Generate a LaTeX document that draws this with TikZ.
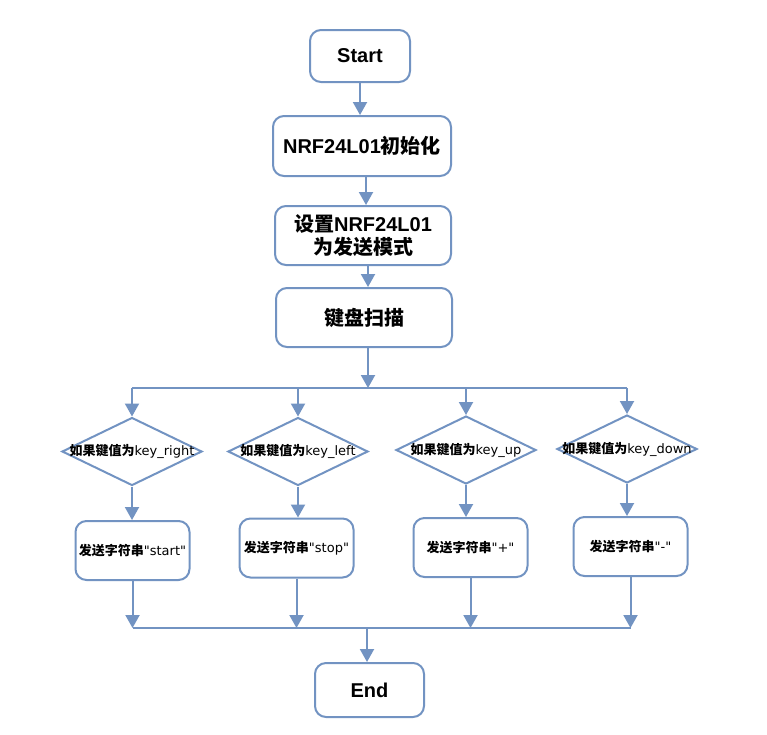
\documentclass[tikz,border=0pt]{standalone}
\usepackage{fontspec}
\setmainfont{DejaVu Sans}
\newfontfamily\titlefont{Liberation Sans}
\newfontfamily\cjk{Noto Sans CJK SC}
\usetikzlibrary{arrows.meta}
\usetikzlibrary{shapes.geometric}
\definecolor{flow}{RGB}{114,147,194}
\newcommand{\zh}[1]{{\cjk\bfseries #1}}
\tikzset{
	box/.style={shape=rectangle,draw=flow,line width=2pt,rounded corners=11pt,align=center,inner sep=0pt},
	bigbox/.style={box,font=\titlefont\bfseries\fontsize{20}{23}\selectfont},
	smallbox/.style={box,minimum width=114pt,minimum height=59pt,font=\fontsize{13}{15}\selectfont},
	dia/.style={shape=diamond,draw=flow,line width=2pt,minimum width=140pt,minimum height=68pt,inner sep=0pt},
	dialabel/.style={font=\fontsize{13}{15}\selectfont,inner sep=0pt},
	arr/.style={draw=flow,line width=2pt,-{Triangle[width=14pt,length=13pt]}},
	wire/.style={draw=flow,line width=2pt}
}

\begin{document}
\begin{tikzpicture}[x=1pt,y=-1pt]
	\useasboundingbox (0,0) rectangle (767,734);
	\node[bigbox,minimum width=100pt,minimum height=52pt] (start) at (360,56) {Start};
	\node[bigbox,minimum width=178pt,minimum height=60pt] (init) at (362,146) {NRF24L01\zh{初始化}};
	\node[bigbox,minimum width=176pt,minimum height=59pt] (mode) at (363,235.5) {\zh{设置}NRF24L01\\\zh{为发送模式}};
	\node[bigbox,minimum width=176pt,minimum height=59pt] (scan) at (364,317.5) {\zh{键盘扫描}};
	\node[bigbox,minimum width=109pt,minimum height=54pt] (fin) at (369.5,690) {End};
	\coordinate (fork) at (368,388);
	\coordinate (join) at (367,628);
	\draw[arr] (start.south) -- (start.south |- init.north);
	\draw[arr] ([xshift=4pt]init.south) -- ([xshift=4pt]init.south |- mode.north);
	\draw[arr] ([xshift=5pt]mode.south) -- ([xshift=5pt]mode.south |- scan.north);
	\draw[arr] (fork |- scan.south) -- (fork);
	\foreach \i/\x/\y/\k in {1/132/451.5/right,2/298/451.5/left,3/466/450/up,4/627/449/down} {
		\node[dia,label={[dialabel]center:\zh{如果键值为}key\_\k}] (d\i) at (\x,\y) {};
	}
	\foreach \i/\x/\y/\s in {1/132.5/550.5/start,2/296.5/548/stop,3/470.5/547.5/+,4/630.5/546.5/-} {
		\node[smallbox] (b\i) at (\x,\y) {\zh{发送字符串}\textquotedbl\s\textquotedbl};
	}
	\draw[wire] (d1 |- fork) -- (d4 |- fork);
	\foreach \i in {1,2,3,4} {
		\draw[arr] (d\i |- fork) -- (d\i.north);
		\draw[arr] (d\i.south) -- (d\i.south |- b\i.north);
		\draw[arr] (b\i.south) -- (b\i.south |- join);
	}
	\draw[wire] (b1.south |- join) -- (b4.south |- join);
	\draw[arr] (join) -- (join |- fin.north);
\end{tikzpicture}
\end{document}
